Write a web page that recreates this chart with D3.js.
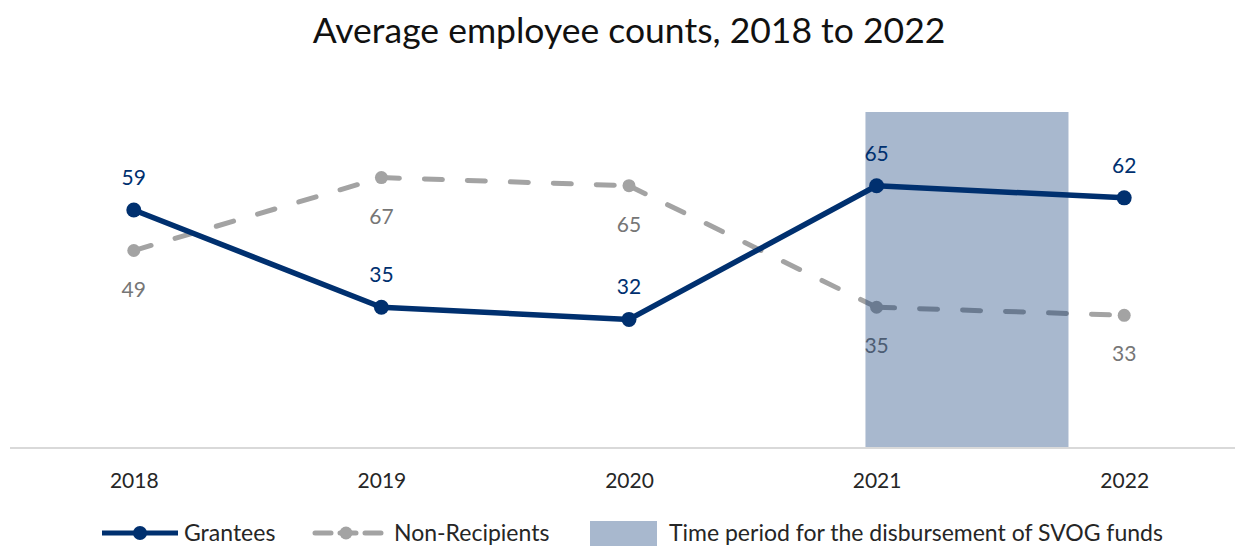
<!DOCTYPE html>
<html>
<head>
<meta charset="utf-8">
<script src="https://cdn.jsdelivr.net/npm/d3@7"></script>
<style>
  html, body { margin: 0; padding: 0; background: #fff; }
  svg { display: block; font-family: Lato, "Open Sans", sans-serif; }
</style>
</head>
<body>
<svg id="chart" width="1235" height="546"></svg>
<script>
// Average employee counts per year
const years = ["2018", "2019", "2020", "2021", "2022"];
const grantees = [59, 35, 32, 65, 62];
const nonRecipients = [49, 67, 65, 35, 33];
// SVOG disbursement window, in fractional years
const svogPeriod = [2020.955, 2021.775];
const titleText = "Average employee counts, 2018 to 2022";
const legendLabels = ["Grantees", "Non-Recipients", "Time period for the disbursement of SVOG funds"];

const NAVY = "#00306f";
const GREY = "#a3a3a3";
const GREY_TEXT = "#767676";

const svg = d3.select("#chart");
const W = 1235, H = 546;

const x = d3.scalePoint().domain(years).range([10, 1248]).padding(0.5);
const xYear = d3.scaleLinear()
  .domain([+years[0], +years[years.length - 1]])
  .range([x(years[0]), x(years[years.length - 1])]);
const y = d3.scaleLinear().domain([0, 83.2]).range([449, 112]);

// Title
svg.append("text")
  .attr("x", 629).attr("y", 43)
  .attr("text-anchor", "middle")
  .attr("font-size", 35.5)
  .attr("fill", "#111")
  .text(titleText);

// X axis: baseline plus year labels
const xAxis = d3.axisBottom(x).tickSize(0).tickPadding(0);
const gx = svg.append("g").attr("transform", `translate(0,448)`).call(xAxis);
gx.select(".domain").remove();
gx.selectAll("text")
  .attr("dy", null)
  .attr("y", 40)
  .attr("font-family", "Lato, sans-serif")
  .attr("font-size", 21)
  .attr("fill", "#262626");

svg.append("line")
  .attr("x1", 10).attr("x2", W)
  .attr("y1", 448).attr("y2", 448)
  .attr("stroke", "#d9d9d9").attr("stroke-width", 2);

const nr = years.map((yr, i) => ({ yr, v: nonRecipients[i] }));
const gr = years.map((yr, i) => ({ yr, v: grantees[i] }));

// Non-recipients: dashed, each segment restarting its dash pattern
const gNR = svg.append("g");
gNR.selectAll("line.seg")
  .data(d3.pairs(nr))
  .join("line")
  .attr("class", "seg")
  .attr("x1", d => x(d[0].yr)).attr("y1", d => y(d[0].v))
  .attr("x2", d => x(d[1].yr)).attr("y2", d => y(d[1].v))
  .attr("stroke", GREY)
  .attr("stroke-width", 5)
  .attr("stroke-linecap", "round")
  .attr("stroke-dasharray", "18 25");
gNR.selectAll("circle")
  .data(nr)
  .join("circle")
  .attr("cx", d => x(d.yr)).attr("cy", d => y(d.v))
  .attr("r", 6.5)
  .attr("fill", GREY);
gNR.selectAll("text")
  .data(nr)
  .join("text")
  .attr("x", d => x(d.yr)).attr("y", d => y(d.v) + 46)
  .attr("text-anchor", "middle")
  .attr("font-size", 21)
  .attr("fill", GREY_TEXT)
  .text(d => d.v);

// SVOG disbursement shading
svg.append("rect")
  .attr("x", xYear(svogPeriod[0]))
  .attr("width", xYear(svogPeriod[1]) - xYear(svogPeriod[0]))
  .attr("y", y.range()[1])
  .attr("height", 447 - y.range()[1])
  .attr("fill", NAVY)
  .attr("fill-opacity", 0.34);

// Grantees: solid line with markers
const gG = svg.append("g");
gG.append("path")
  .datum(gr)
  .attr("d", d3.line().x(d => x(d.yr)).y(d => y(d.v)))
  .attr("fill", "none")
  .attr("stroke", NAVY)
  .attr("stroke-width", 5.5)
  .attr("stroke-linejoin", "round");
gG.selectAll("circle")
  .data(gr)
  .join("circle")
  .attr("cx", d => x(d.yr)).attr("cy", d => y(d.v))
  .attr("r", 7.5)
  .attr("fill", NAVY);
gG.selectAll("text")
  .data(gr)
  .join("text")
  .attr("x", d => x(d.yr)).attr("y", d => y(d.v) - 25)
  .attr("text-anchor", "middle")
  .attr("font-size", 21)
  .attr("fill", NAVY)
  .text(d => d.v);

// Legend
const lg = svg.append("g").attr("font-size", 23).attr("fill", "#262626");
const ly = 533;
lg.append("line").attr("x1", 102).attr("x2", 178).attr("y1", ly).attr("y2", ly)
  .attr("stroke", NAVY).attr("stroke-width", 5);
lg.append("circle").attr("cx", 140).attr("cy", ly).attr("r", 7).attr("fill", NAVY);
lg.append("text").attr("x", 184).attr("y", ly + 8).text(legendLabels[0]);

lg.append("line").attr("x1", 315).attr("x2", 381).attr("y1", ly).attr("y2", ly)
  .attr("stroke", GREY).attr("stroke-width", 5)
  .attr("stroke-linecap", "round").attr("stroke-dasharray", "16 9");
lg.append("circle").attr("cx", 346).attr("cy", ly).attr("r", 6.5).attr("fill", GREY);
lg.append("text").attr("x", 394).attr("y", ly + 8).text(legendLabels[1]);

lg.append("rect").attr("x", 590).attr("y", 521).attr("width", 67).attr("height", 25)
  .attr("fill", NAVY).attr("fill-opacity", 0.34);
lg.append("text").attr("x", 669).attr("y", ly + 8).text(legendLabels[2]);
</script>
</body>
</html>
